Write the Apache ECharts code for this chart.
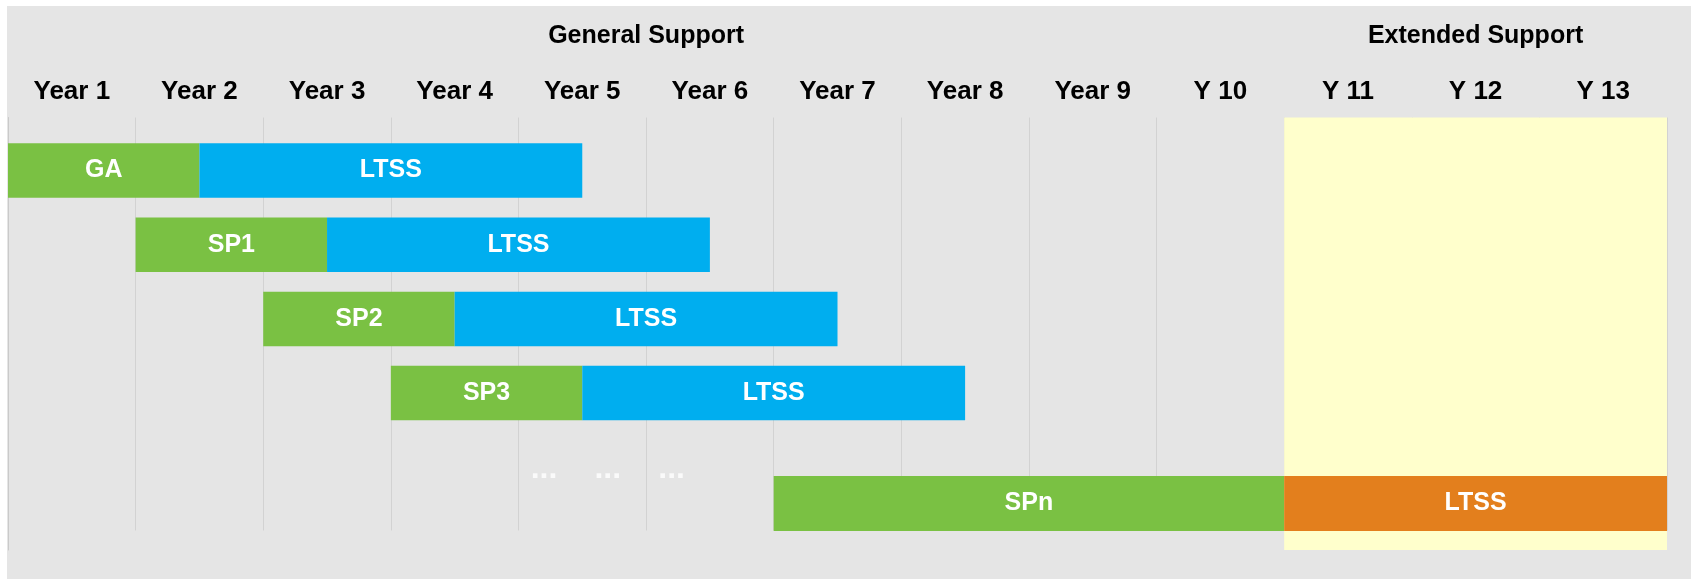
<!DOCTYPE html>
<html>
<head>
<meta charset="utf-8">
<script src="https://cdn.jsdelivr.net/npm/echarts@6/dist/echarts.min.js"></script>
<style>
html,body{margin:0;padding:0;background:#ffffff;}
#chart{width:1691px;height:579px;}
</style>
</head>
<body>
<div id="chart"></div>
<script>
// ---- data ----
const years = ['Year 1','Year 2','Year 3','Year 4','Year 5','Year 6','Year 7','Year 8','Year 9','Y 10','Y 11','Y 12','Y 13'];
const releases = ['GA','SP1','SP2','SP3'];
const releaseStart = [0, 1, 2, 3];
const releaseYears = [1.5, 1.5, 1.5, 1.5];
const ltssYears = [3, 3, 3, 3];
const lastRelease = ['SPn'];
const lastStart = [6];
const lastYears = [4];
const extendedLtssYears = [3];
const ellipsisAt = [4.2, 4.7, 5.2];
const phaseNames = ['General Support', 'Extended Support'];
const phaseBounds = [[0, 10], [10, 13]];
const ltssLabel = 'LTSS';
const gapRow = '…';

// ---- styles ----
const GREEN = '#7AC143', BLUE = '#00AEEF', ORANGE = '#E37F1D', YELLOW = '#FFFFCC', BG = '#E5E5E5', GRIDC = '#D2D2D2';
const FONT = '"Liberation Sans", Arial, sans-serif';
const L = 8, R = 24;
const yearMax = years.length;

const chart = echarts.init(document.getElementById('chart'), null, {renderer: 'canvas'});

function hiddenX(gridIndex) {
  return {type: 'value', gridIndex, min: 0, max: yearMax, show: false};
}
const barLabel = {show: true, position: 'inside', color: '#fff', fontWeight: 'bold', fontSize: 25, fontFamily: FONT};

const option = {
  animation: false,
  backgroundColor: '#ffffff',
  grid: [
    {left: L, right: R, top: 117.5, bottom: 29},      // background (yellow zone + left line)
    {left: L, right: R, top: 117.5, bottom: 48.5},    // vertical grid lines + year labels
    {left: L, right: R, top: 133.4, bottom: 579 - 504.4}, // release rows
    {left: L, right: R, top: 476, bottom: 48}         // SPn row
  ],
  xAxis: [
    hiddenX(0),
    {type: 'value', gridIndex: 1, min: 0, max: yearMax, interval: 1,
     axisLine: {show: false}, axisTick: {show: false}, axisLabel: {show: false},
     splitLine: {show: true, lineStyle: {color: GRIDC, width: 1}}},
    {type: 'category', gridIndex: 1, position: 'top', data: years, boundaryGap: true,
     axisLine: {show: false}, axisTick: {show: false}, splitLine: {show: false},
     axisLabel: {show: true, interval: 0, color: '#000', fontWeight: 'bold', fontSize: 26, fontFamily: FONT,
                 margin: 25.5, verticalAlign: 'middle'}},
    hiddenX(2),
    hiddenX(3)
  ],
  yAxis: [
    {type: 'value', gridIndex: 0, min: 0, max: 1, axisLine: {show: true, lineStyle: {color: '#CACACA'}},
     axisTick: {show: false}, axisLabel: {show: false}, splitLine: {show: false}},
    {type: 'value', gridIndex: 1, min: 0, max: 1, show: false},
    {type: 'category', gridIndex: 2, data: releases.concat([gapRow]), inverse: true, show: false},
    {type: 'category', gridIndex: 3, data: lastRelease, show: false}
  ],
  series: [
    {type: 'line', xAxisIndex: 0, yAxisIndex: 0, data: [], symbol: 'none', silent: true,
     markArea: {silent: true, itemStyle: {color: YELLOW}, z: 0,
       data: [[{xAxis: phaseBounds[1][0], yAxis: 0}, {xAxis: phaseBounds[1][1], yAxis: 1}]]}},
    // release rows
    {type: 'bar', xAxisIndex: 3, yAxisIndex: 2, stack: 'rel', data: releaseStart, barWidth: 54.5,
     itemStyle: {color: 'transparent'}, silent: true},
    {type: 'bar', xAxisIndex: 3, yAxisIndex: 2, stack: 'rel', data: releaseYears, barWidth: 54.5,
     itemStyle: {color: GREEN}, label: Object.assign({}, barLabel, {formatter: p => releases[p.dataIndex]})},
    {type: 'bar', xAxisIndex: 3, yAxisIndex: 2, stack: 'rel', data: ltssYears, barWidth: 54.5,
     itemStyle: {color: BLUE}, label: Object.assign({}, barLabel, {formatter: ltssLabel})},
    {type: 'scatter', xAxisIndex: 3, yAxisIndex: 2, symbolSize: 0,
     data: ellipsisAt.map(x => [x, gapRow]),
     label: {show: true, position: 'inside', offset: [0, 2], formatter: '...', color: '#fff', fontWeight: 'bold', fontSize: 32, fontFamily: FONT}},
    // last release row
    {type: 'bar', xAxisIndex: 4, yAxisIndex: 3, stack: 'last', data: lastStart, barWidth: '100%',
     itemStyle: {color: 'transparent'}, silent: true},
    {type: 'bar', xAxisIndex: 4, yAxisIndex: 3, stack: 'last', data: lastYears, barWidth: '100%',
     itemStyle: {color: GREEN}, label: Object.assign({}, barLabel, {formatter: lastRelease[0]})},
    {type: 'bar', xAxisIndex: 4, yAxisIndex: 3, stack: 'last', data: extendedLtssYears, barWidth: '100%',
     itemStyle: {color: ORANGE}, label: Object.assign({}, barLabel, {formatter: ltssLabel})}
  ]
};
chart.setOption(option);

// headers and background
const headerTexts = phaseNames.map((name, i) => {
  const x0 = chart.convertToPixel({xAxisIndex: 1}, phaseBounds[i][0]);
  const x1 = chart.convertToPixel({xAxisIndex: 1}, phaseBounds[i][1]);
  return {type: 'text', z: 10, style: {text: name, x: (x0 + x1) / 2, y: 36.5, align: 'center', verticalAlign: 'middle',
          fill: '#000', font: 'bold 25px ' + FONT}};
});
chart.setOption({
  graphic: [
    {type: 'rect', z: -100, silent: true, shape: {x: 7, y: 6, width: 1691 - 7, height: 579 - 6}, style: {fill: BG}}
  ].concat(headerTexts)
});
</script>
</body>
</html>
